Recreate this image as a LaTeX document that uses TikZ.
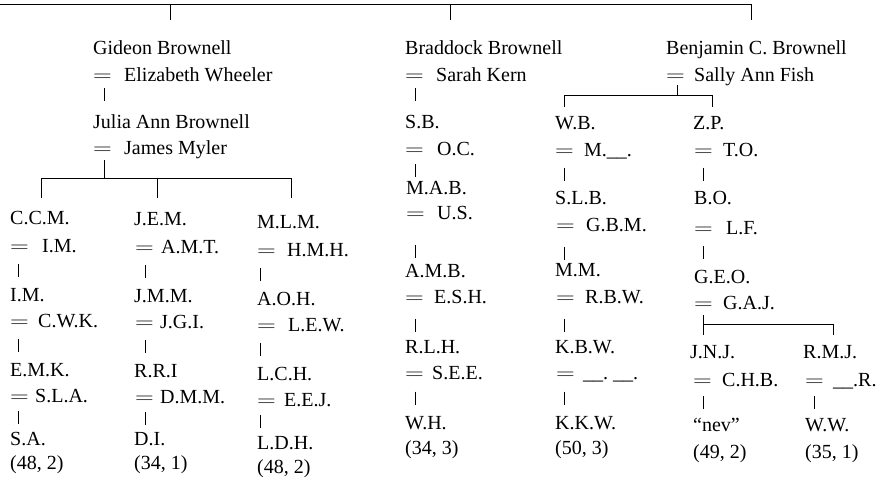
\documentclass[tikz,border=0pt]{standalone}
\usepackage{fontspec}
\setmainfont{Liberation Serif}
\usetikzlibrary{calc}
\newcommand\eqs[1][29pt]{\makebox[#1][l]{\scalebox{1.25}[1]{$=$}}}
\newcommand\famBar[4][0]{\draw[ln] ($(#2.west)!0.5!(#3.west)+(#4,#1-6.5)$) -- ($(#2.west)!0.5!(#3.west)+(#4,#1+6.5)$);}
\tikzset{
  tx/.style={anchor=west, inner sep=0pt, text height=13pt, text depth=0pt, font=\fontsize{20}{24}\selectfont},
  ln/.style={line width=0.9pt, line cap=butt},
}
\begin{document}
\begin{tikzpicture}[x={(1pt,0pt)}, y={(0pt,-1pt)}]
\useasboundingbox (0,0) rectangle (886,488);

% ---- top bracket
\coordinate (T0) at (0,4);
\coordinate (d1) at (170,20);
\coordinate (d2) at (450,20);
\coordinate (d3) at (751,20);
\draw[ln] (T0) -| (d3);
\draw[ln] (d1|-T0) -- (d1);
\draw[ln] (d2|-T0) -- (d2);

% ---- Gideon line
\node[tx] (gb)  at (93,48)  {Gideon Brownell};
\node[tx] (ew)  at (93,75)  {\eqs[31pt]Elizabeth Wheeler};
\node[tx] (jab) at (93,122) {Julia Ann Brownell};
\node[tx] (jmy) at (93,148) {\eqs[31pt]James Myler};
\famBar[-4]{ew}{jab}{11}

\coordinate (g0) at (104,160);
\coordinate (gh) at (0,178);
\coordinate (g1) at (41,198);
\coordinate (g2) at (157,198);
\coordinate (g3) at (291,198);
\draw[ln] (g0) -- (g0|-gh);
\draw[ln] (g1) -- (g1|-gh) -- (g3|-gh) -- (g3);
\draw[ln] (g2|-gh) -- (g2);

% C.C.M. column
\node[tx] (ccm)  at (10,218) {C.C.M.};
\node[tx] (im1)  at (10,246) {\eqs[32pt]I.M.};
\node[tx] (im2)  at (10,295) {I.M.};
\node[tx] (cwk)  at (10,321) {\eqs[28pt]C.W.K.};
\node[tx] (emk)  at (10,370) {E.M.K.};
\node[tx] (sla)  at (10,396) {\eqs[25pt]S.L.A.};
\node[tx] (sa)   at (10,439) {S.A.};
\node[tx] (na)   at (10,463) {(48, 2)};
\famBar{im1}{im2}{8}
\famBar{cwk}{emk}{8}
\famBar{sla}{sa}{8}

% J.E.M. column
\node[tx] (jem)  at (134,219) {J.E.M.};
\node[tx] (amt)  at (135,247) {\eqs[26pt]A.M.T.};
\node[tx] (jmm)  at (134,296) {J.M.M.};
\node[tx] (jgi)  at (135,322) {\eqs[25pt]J.G.I.};
\node[tx] (rri)  at (134,371) {R.R.I};
\node[tx] (dmm)  at (135,397) {\eqs[25pt]D.M.M.};
\node[tx] (di)   at (134,439) {D.I.};
\node[tx] (nb)   at (134,463) {(34, 1)};
\famBar{amt}{jmm}{11}
\famBar{jgi}{rri}{11}
\famBar{dmm}{di}{11}

% M.L.M. column
\node[tx] (mlm)  at (257,222) {M.L.M.};
\node[tx] (hmh)  at (257,250) {\eqs[30pt]H.M.H.};
\node[tx] (aoh)  at (257,299) {A.O.H.};
\node[tx] (lew)  at (257,325) {\eqs[31pt]L.E.W.};
\node[tx] (lch)  at (257,374) {L.C.H.};
\node[tx] (eej)  at (257,400) {\eqs[27pt]E.E.J.};
\node[tx] (ldh)  at (257,443) {L.D.H.};
\node[tx] (nc)   at (257,467) {(48, 2)};
\famBar{hmh}{aoh}{3}
\famBar{lew}{lch}{3}
\famBar{eej}{ldh}{3}

% ---- Braddock line
\node[tx] (bb)   at (405,48)  {Braddock Brownell};
\node[tx] (sk)   at (405,75)  {\eqs[31pt]Sarah Kern};
\node[tx] (sb)   at (405,122) {S.B.};
\node[tx] (oc)   at (405,149) {\eqs[32pt]O.C.};
\node[tx] (mab)  at (406,188) {M.A.B.};
\node[tx] (us)   at (406,213) {\eqs[31pt]U.S.};
\node[tx] (amb)  at (405,271) {A.M.B.};
\node[tx] (esh)  at (405,297) {\eqs[29pt]E.S.H.};
\node[tx] (rlh)  at (405,347) {R.L.H.};
\node[tx] (see)  at (405,373) {\eqs[27pt]S.E.E.};
\node[tx] (wh)   at (405,423) {W.H.};
\node[tx] (nd)   at (405,448) {(34, 3)};
\famBar[-4]{sk}{sb}{10}
\famBar[2]{oc}{mab}{10}
\famBar[9]{us}{amb}{10}
\famBar[3]{esh}{rlh}{10}
\famBar{see}{wh}{10}

% ---- Benjamin line
\node[tx] (bcb)  at (666,48) {Benjamin C. Brownell};
\node[tx] (saf)  at (666,75) {\eqs[28pt]Sally Ann Fish};
\coordinate (b0) at (677,85);
\coordinate (bh) at (0,95);
\coordinate (b1) at (564,107);
\coordinate (b2) at (712,107);
\draw[ln] (b0) -- (b0|-bh);
\draw[ln] (b1) -- (b1|-bh) -- (b2|-bh) -- (b2);

% W.B. column
\node[tx] (wb)   at (555,123) {W.B.};
\node[tx] (mu)   at (555,150) {\eqs[29pt]M.\_\_.};
\node[tx] (slb)  at (555,198) {S.L.B.};
\node[tx] (gbm)  at (556,225) {\eqs[30pt]G.B.M.};
\node[tx] (mm)   at (555,270) {M.M.};
\node[tx] (rbw)  at (556,297) {\eqs[29pt]R.B.W.};
\node[tx] (kbw)  at (555,347) {K.B.W.};
\node[tx] (uu)   at (556,373) {\eqs[27pt]\_\_.\ \_\_.};
\node[tx] (kkw)  at (555,423) {K.K.W.};
\node[tx] (ne)   at (555,448) {(50, 3)};
\famBar{mu}{slb}{9}
\famBar[6]{gbm}{mm}{9}
\famBar[3]{rbw}{kbw}{9}
\famBar{uu}{kkw}{9}

% Z.P. column
\node[tx] (zp)   at (693,123) {Z.P.};
\node[tx] (to)   at (694,150) {\eqs[29pt]T.O.};
\node[tx] (bo)   at (694,198) {B.O.};
\node[tx] (lf)   at (694,228) {\eqs[32pt]L.F.};
\node[tx] (geo)  at (694,277) {G.E.O.};
\node[tx] (gaj)  at (694,303) {\eqs[29pt]G.A.J.};
\famBar{to}{bo}{9}
\famBar{lf}{geo}{9}

\coordinate (e0) at (703,315);
\coordinate (eh) at (0,324);
\coordinate (e1) at (703,335);
\coordinate (e2) at (833,335);
\draw[ln] (e0) -- (e1);
\draw[ln] (e1|-eh) -- (e2|-eh) -- (e2);

% J.N.J. column
\node[tx] (jnj)  at (690,352) {J.N.J.};
\node[tx] (chb)  at (693,380) {\eqs[29pt]C.H.B.};
\node[tx] (nev)  at (693,425) {``nev''};
\node[tx] (nf)   at (693,452) {(49, 2)};
\famBar{chb}{nev}{10}

% R.M.J. column
\node[tx] (rmj)  at (803,352) {R.M.J.};
\node[tx] (ur)   at (805,380) {\eqs[28pt]\_\_.R.};
\node[tx] (ww)   at (805,425) {W.W.};
\node[tx] (ng)   at (805,452) {(35, 1)};
\famBar{ur}{ww}{9}
\end{tikzpicture}
\end{document}
